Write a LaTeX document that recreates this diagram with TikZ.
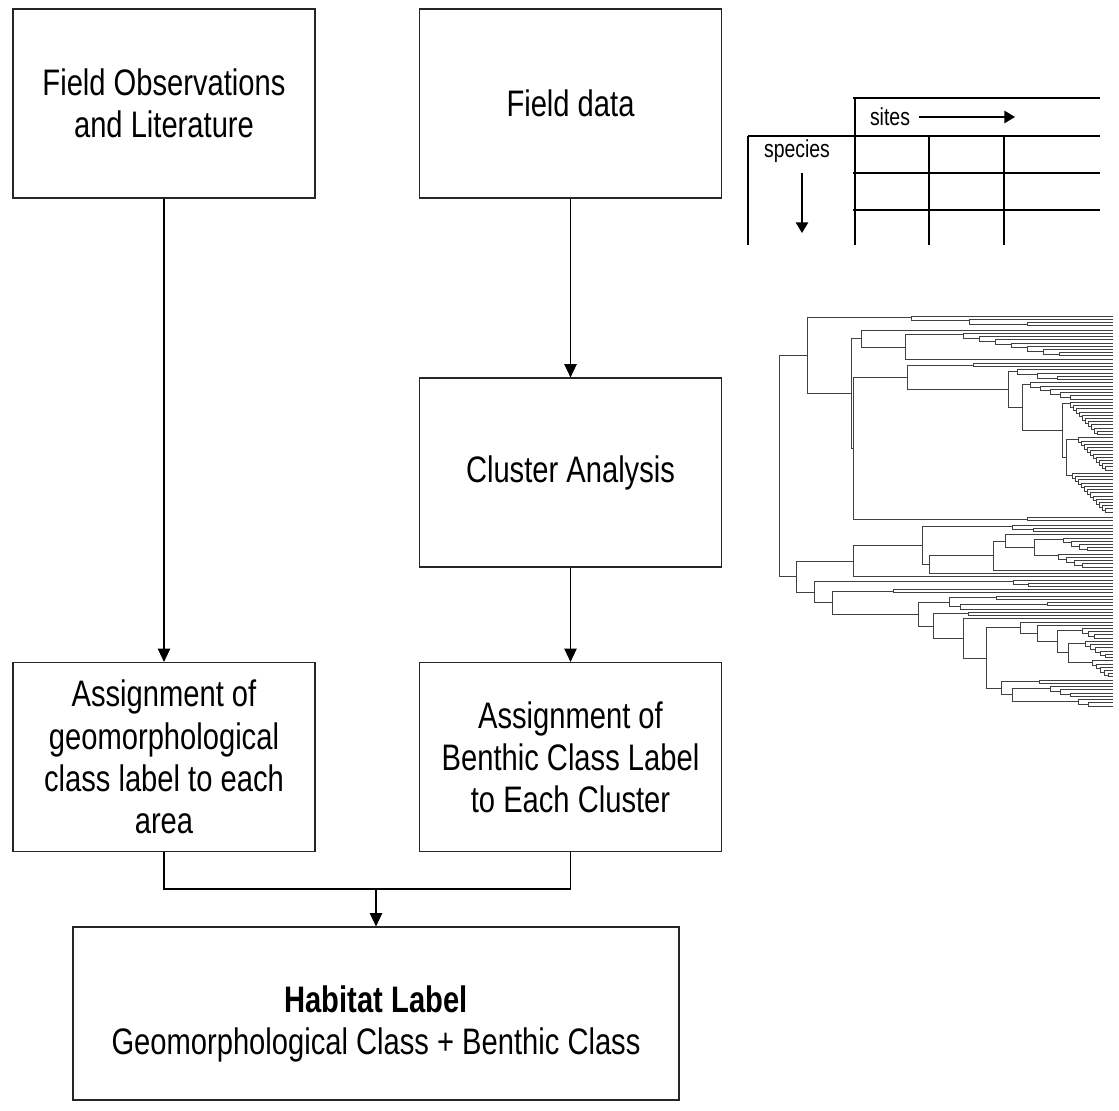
\documentclass[tikz,border=0pt]{standalone}
\usepackage{fontspec}
\setmainfont[FakeStretch=0.79]{Liberation Sans}
\usetikzlibrary{arrows.meta}
\newcommand\dR{1113}
\newcommand\dnode[5]{\draw[dend] (#4,#2) -- (#1,#2) -- (#1,#3) -- (#5,#3);}
\newcommand\dcomb[5]{%
	\pgfmathtruncatemacro\nlast{#3-2}
	\foreach \i in {0,...,\nlast}{
		\pgfmathsetmacro\xa{#1+\i*#4}
		\pgfmathsetmacro\ya{#2+\i*#5}
		\pgfmathsetmacro\yb{\i<\nlast ? #2+(\i+1.5)*#5 : #2+(\i+1)*#5}
		\pgfmathsetmacro\xb{\i<\nlast ? #1+(\i+1)*#4 : \dR}
		\draw[dend] (\dR,\ya) -- (\xa,\ya) -- (\xa,\yb) -- (\xb,\yb);
	}}

\begin{document}
\begin{tikzpicture}[x=0.02cm,y=-0.02cm,
		box/.style={draw=black!85,line width=0.7pt,minimum width=6.04cm,minimum height=3.78cm,
			align=center,inner sep=0pt,font=\fontsize{21}{24}\selectfont},
		conn/.style={draw=black,line width=0.6pt},
		arr/.style={conn,-{Triangle[width=7pt,length=7.5pt]}},
		tab/.style={line width=1.1pt},
		tarr/.style={line width=0.8pt,-{Triangle[width=7pt,length=6pt]}},
		small/.style={inner sep=1pt,font=\fontsize{14}{16}\selectfont},
		dend/.style={draw=black!75,line width=0.45pt}]
	\useasboundingbox (0,0) rectangle (1119,1111);

	% flow chart
	\node[box] (obs) at (164,103.5) {Field Observations\\and Literature};
	\node[box] (data) at (570.5,103.5) {Field data};
	\node[box] (clus) at (570.5,472.5) {Cluster Analysis};
	\node[box] (geo) at (164,757) {Assignment of\\geomorphological\\class label to each\\area};
	\node[box] (ben) at (570.5,757) {Assignment of\\Benthic Class Label\\to Each Cluster};
	\node[box,minimum width=12.12cm,minimum height=3.46cm] (hab) at (376,1013.5)
		{\rule{0pt}{27pt}\textbf{Habitat Label}\\Geomorphological Class + Benthic Class};
	\coordinate (join) at (376,889);
	\draw[arr] (obs) -- (geo);
	\draw[arr] (data) -- (clus);
	\draw[arr] (clus) -- (ben);
	\draw[conn] (geo.south) |- (join) -| (ben.south);
	\draw[arr] (join) -- (hab);

	% sites x species table
	\draw[tab] (853,98) -- (1100,98);
	\draw[tab] (748,136) -- (1100,136);
	\draw[tab] (853,173) -- (1100,173);
	\draw[tab] (853,210) -- (1100,210);
	\draw[tab] (855,98) -- (855,245);
	\draw[tab] (748,136) -- (748,245);
	\draw[tab] (929,136) -- (929,245);
	\draw[tab] (1004,136) -- (1004,245);
	\node[small] (sites) at (890,117) {sites};
	\node[small] (species) at (797,151) {species};
	\coordinate (sitesend) at (1015,117);
	\coordinate (sptop) at (802,173);
	\coordinate (spend) at (802,233);
	\draw[tarr] ([xshift=4pt]sites.east) -- (sitesend);
	\draw[tarr] (sptop) -- (spend);

	% dendrogram
	\begin{scope}[y={(0,-0.02154cm)},yshift=0.594cm]
		\dnode{779}{357.7}{562.9}{807}{796}
		\dnode{807}{322.5}{392.9}{911}{851}
		\dcomb{911}{321}{4}{58}{3}
		\dnode{851}{342}{443.7}{861}{853}
		\dnode{861}{334}{350}{\dR}{905}
		\dnode{905}{338.5}{361}{963}{\dR}
		\dcomb{963}{337}{8}{16}{3}
		\dnode{853}{377.85}{509.5}{907}{1027}
		\dnode{907}{366.5}{389.2}{973}{1008}
		\dcomb{973}{365}{2}{0}{3}
		\dnode{1008}{372.5}{405.9}{1017}{1022}
		\dcomb{1017}{371}{4}{20}{3}
		\dnode{1022}{384.5}{427.25}{1030}{1062}
		\dcomb{1030}{383}{6}{10}{3}
		\dnode{1062}{402.5}{452}{1070}{1066}
		\dcomb{1070}{401}{11}{3}{3}
		\dnode{1066}{435.5}{468.5}{1078}{1072}
		\dcomb{1078}{434}{11}{3}{3}
		\dcomb{1072}{467}{13}{3}{3}
		\dcomb{1027}{508}{2}{0}{3}
		\dnode{796}{548.5}{577.3}{853}{814}
		\dnode{853}{534.1}{563}{922}{\dR}
		\dnode{922}{516.5}{551.75}{1012}{929}
		\dcomb{1012}{515}{3}{21}{3}
		\dnode{929}{543.5}{560}{993}{\dR}
		\dnode{993}{530}{557}{1005}{\dR}
		\dnode{1005}{524}{536}{\dR}{1034}
		\dnode{1034}{528.5}{543.5}{1063}{1058}
		\dcomb{1063}{527}{5}{8}{3}
		\dcomb{1058}{542}{5}{8}{3}
		\dnode{814}{567.5}{587.1}{1013}{832}
		\dcomb{1013}{566}{3}{15}{3}
		\dnode{832}{576.5}{597.7}{893}{918}
		\dcomb{893}{575}{2}{0}{3}
		\dnode{918}{586.6}{608.9}{949}{933}
		\dnode{949}{582.5}{590.75}{996}{960}
		\dcomb{996}{581}{2}{0}{3}
		\dnode{960}{588.5}{593}{1047}{\dR}
		\dcomb{1047}{587}{2}{0}{3}
		\dnode{933}{597.5}{620.2}{968}{963}
		\dcomb{968}{596}{2}{0}{3}
		\dnode{963}{602}{638.4}{\dR}{986}
		\dnode{986}{610.25}{666.5}{1020}{1001}
		\dnode{1020}{605}{615.5}{\dR}{1037}
		\dnode{1037}{608}{623}{\dR}{1057}
		\dnode{1057}{612.5}{633.5}{1082}{1068}
		\dcomb{1082}{611}{4}{6}{3}
		\dnode{1068}{624.5}{642.5}{1085}{1092}
		\dcomb{1085}{623}{6}{5}{3}
		\dcomb{1092}{641}{6}{4}{3}
		\dnode{1001}{660.5}{672.5}{1039}{1012}
		\dcomb{1039}{659}{2}{0}{3}
		\dnode{1012}{666.5}{678.5}{1050}{1078}
		\dcomb{1050}{665}{4}{10}{3}
		\dcomb{1078}{677}{3}{10}{3}
	\end{scope}
\end{tikzpicture}
\end{document}
